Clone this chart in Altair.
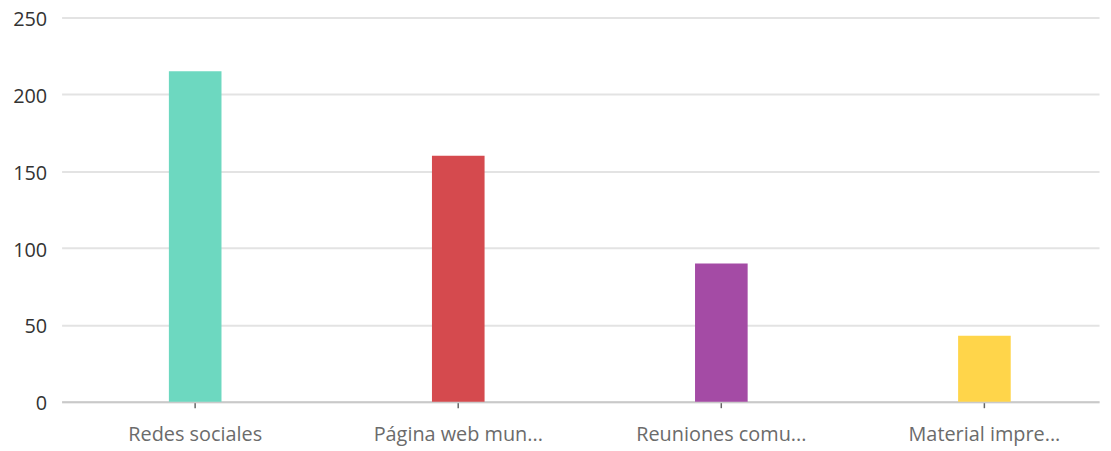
import altair as alt
import pandas as pd

categories = ["Redes sociales", "Página web mun...", "Reuniones comu...", "Material impre..."]
values = [215, 160, 90, 43]
colors = ["#6dd8c0", "#d54a4e", "#a44ba5", "#ffd54a"]

df = pd.DataFrame({"cat": categories, "val": values})

chart = alt.Chart(df).mark_bar().encode(
    x=alt.X("cat:N", sort=categories, title=None,
            scale=alt.Scale(paddingInner=0.8, paddingOuter=0.3717, align=0.5485),
            axis=alt.Axis(labelAngle=0, labelFont="Open Sans", labelFontSize=20, labelColor="#6b6b6b",
                          labelPadding=17, tickColor="#666666", tickSize=6, tickWidth=1.5,
                          domainColor="#c9c9c9", domainWidth=2, grid=False)),
    y=alt.Y("val:Q", title=None,
            scale=alt.Scale(domain=[0, 250]),
            axis=alt.Axis(values=[0, 50, 100, 150, 200, 250], labelFont="Open Sans", labelFontSize=20,
                          labelColor="#333333", labelPadding=15, ticks=False, domain=False,
                          labelOffset=2,
                          gridColor="#e3e3e3", gridWidth=2)),
    color=alt.Color("cat:N", sort=categories, legend=None,
                    scale=alt.Scale(domain=categories, range=colors)),
).properties(
    width=1045, height=387,
    autosize=alt.AutoSizeParams(type="none"),
    padding={"left": 54, "top": 8, "right": 4, "bottom": 48},
).configure_view(stroke=None)

chart.save("out.html", embed_options={"renderer": "svg", "actions": False})
